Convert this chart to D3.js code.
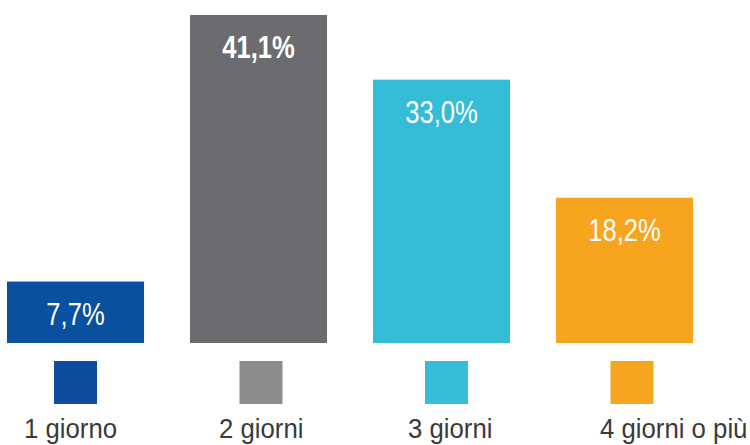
<!DOCTYPE html>
<html>
<head>
<meta charset="utf-8">
<script src="https://cdn.jsdelivr.net/npm/d3@7"></script>
<style>
  html, body { margin: 0; padding: 0; background: #fff; }
  svg { display: block; }
  text { font-family: "Liberation Sans", Arial, sans-serif; }
</style>
</head>
<body>
<svg id="chart" width="750" height="445"></svg>
<script>
// data
const categories = ["1 giorno", "2 giorni", "3 giorni", "4 giorni o più"];
const values = [7.7, 41.1, 33.0, 18.2];
const valueLabels = ["7,7%", "41,1%", "33,0%", "18,2%"];
const barColors = ["#0a50a1", "#6b6c70", "#35bcd7", "#f7a51e"];
const swatchColors = ["#0e4c9e", "#8b8c8e", "#34bcd8", "#f7a51e"];

const svg = d3.select("#chart"),
	baseline = 343;

// bars
const x = d3.scaleBand()
	.domain(categories)
	.range([7, 693])
	.paddingInner(0.251)
	.paddingOuter(0);

const y = d3.scaleLinear()
	.domain([0, 41.1])
	.range([baseline, 15]);

const g = svg.append("g");

g.selectAll(".bar")
	.data(categories)
	.enter()
	.append("rect")
	.attr("class", "bar")
	.attr("x", d => x(d))
	.attr("y", (d, i) => y(values[i]))
	.attr("width", x.bandwidth())
	.attr("height", (d, i) => baseline - y(values[i]))
	.attr("fill", (d, i) => barColors[i]);

// narrow-looking text: plain sans squeezed horizontally
g.selectAll(".val")
	.data(categories)
	.enter()
	.append("g")
	.attr("class", "val")
	.attr("transform", (d, i) =>
		"translate(" + (x(d) + x.bandwidth() / 2) + "," + (y(values[i]) + 43) + ") scale(0.8,1)")
	.append("text")
	.attr("text-anchor", "middle")
	.attr("font-size", 32)
	.attr("font-weight", (d, i) => i === 1 ? "bold" : "normal")
	.attr("fill", "#fff")
	.text((d, i) => valueLabels[i]);

// legend swatches + labels
const lx = d3.scaleBand()
	.domain(categories)
	.range([54, 54 + 185.5 * 4])
	.paddingInner(0)
	.align(0);

const lg = svg.append("g");

lg.selectAll(".swatch")
	.data(categories)
	.enter()
	.append("rect")
	.attr("class", "swatch")
	.attr("x", d => lx(d))
	.attr("y", 361)
	.attr("width", 43)
	.attr("height", 43)
	.attr("fill", (d, i) => swatchColors[i]);

const tx = d3.scalePoint()
	.domain(categories)
	.range([24, 600]);

lg.selectAll(".lbl")
	.data(categories)
	.enter()
	.append("g")
	.attr("class", "lbl")
	.attr("transform", (d, i) => "translate(" + (tx(d) + (i === 1 ? 3 : 0)) + ",438) scale(0.92,1)")
	.append("text")
	.attr("font-size", 28)
	.attr("fill", "#3a3a3a")
	.text(d => d);
</script>
</body>
</html>
